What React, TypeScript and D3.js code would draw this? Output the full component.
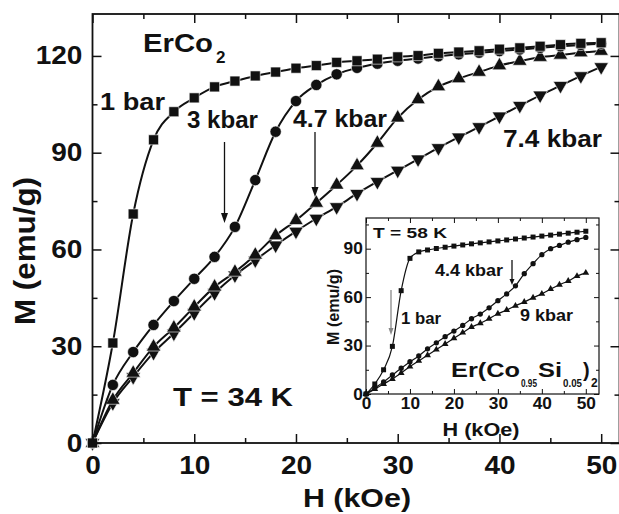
import React, { useEffect, useRef } from 'react';
import * as d3 from 'd3';

// field values (kOe), same grid for main plot and inset
const fieldH = [0, 2, 4, 6, 8, 10, 12, 14, 16, 18, 20, 22, 24, 26, 28, 30, 32, 34, 36, 38, 40, 42, 44, 46, 48, 50];

// ErCo2, T = 34 K
const erCo2_1bar = [0, 31, 71, 94, 102.7, 107, 110.4, 112.2, 113.8, 115, 116.2, 117, 118, 118.5, 119, 119.7, 120.1, 120.8, 121.2, 121.6, 122.1, 122.5, 123, 123.5, 123.9, 124.1];
const erCo2_3kbar = [0, 18, 28.2, 36.6, 44, 50.9, 57.7, 67, 81.5, 96.5, 106, 111, 114.3, 116.3, 117.6, 118.5, 119.2, 119.9, 120.5, 121, 121.5, 122, 122.5, 123, 123.4, 123.8];
const erCo2_47kbar = [0, 13.3, 21.7, 29.8, 35.7, 42.2, 48.4, 53, 58.3, 64.3, 69, 74.4, 80, 86, 93, 100.8, 106.5, 110.5, 113, 115, 117, 118.4, 119.6, 120.3, 121, 121.5];
const erCo2_74kbar = [0, 12.4, 20.5, 28, 34, 40.3, 46.5, 52, 56.7, 61.3, 65.6, 69.6, 73.2, 77.3, 81, 84.5, 88, 91.5, 94.8, 98, 101.3, 104.6, 107.8, 110.8, 113.8, 116.6];

// Er(Co0.95Si0.05)2, T = 58 K (inset)
const si_1bar = [0, 6.2, 15, 29.5, 64, 84, 88, 89.2, 90.1, 90.9, 91.6, 92.3, 93, 93.6, 94.2, 94.8, 95.4, 96, 96.6, 97.2, 97.8, 98.4, 99, 99.6, 100.2, 100.8];
const si_44kbar = [0, 3.7, 7.5, 11.8, 16, 20, 23.6, 28, 31.7, 35.5, 39, 42.5, 46.6, 49.5, 53.4, 57.8, 62, 67, 74.5, 80.7, 86.3, 90, 92, 94, 95.6, 97];
const si_9kbar = [0, 3, 6.2, 9.3, 13, 17, 20.5, 24, 27.5, 31, 34.5, 38, 41.5, 43.8, 46.6, 49.7, 52, 54.6, 57, 59.6, 62, 65, 67.7, 70, 73, 75];

const mainXTicks = [0, 10, 20, 30, 40, 50];
const mainXMinor = [5, 15, 25, 35, 45];
const mainYTicks = [0, 30, 60, 90, 120];
const mainYMinor = [15, 45, 75, 105];
const insetXTicks = [0, 10, 20, 30, 40, 50];
const insetXMinor = [5, 15, 25, 35, 45];
const insetYTicks = [0, 30, 60, 90];
const insetYMinor = [15, 45, 75, 105];

const FONT = '"Liberation Sans", Arial, sans-serif';
const INK = '#111';

const main = { left: 92.5, right: 619.5, top: 14, bottom: 443 };
const ins = { left: 366, right: 599, top: 218, bottom: 394 };

const Txt = ({ x, y, size, w, anchor = 'start', children, transform }: any) => (
  <text x={x} y={y} fontSize={size} fontFamily={FONT} fontWeight="bold" fill={INK}
        textAnchor={anchor} textLength={w} lengthAdjust={w ? 'spacingAndGlyphs' : undefined}
        transform={transform}>
    {children}
  </text>
);

const Arrow = ({ x, y1, y2, head = 10, half = 3.5, color = INK }: any) => (
  <g>
    <line x1={x} x2={x} y1={y1} y2={y2 - head + 1} stroke={color} strokeWidth={1.3} />
    <path d={`M${x - half},${y2 - head} L${x + half},${y2 - head} L${x},${y2} Z`} fill={color} />
  </g>
);

function drawFrame(g: any, xs: any, ys: any, o: any) {
  const [x0, x1] = xs.range();
  const [y0, y1] = ys.range();
  const styleAxis = (sel: any) => {
    sel.select('.domain').remove();
    sel.selectAll('line').attr('stroke', INK).attr('stroke-width', o.tickWidth);
    sel.attr('font-family', FONT).attr('font-weight', 'bold').attr('font-size', o.fontSize);
    sel.selectAll('text').attr('fill', INK);
  };
  const fmt = d3.format('d');
  const none = () => '';

  g.append('g').attr('transform', `translate(0,${y0})`)
    .call(d3.axisBottom(xs).tickValues(o.xMajor).tickSize(-o.major).tickPadding(o.xPad).tickFormat(fmt))
    .call(styleAxis)
    .selectAll('text').attr('transform', `scale(${o.stretch},1)`);
  g.append('g').attr('transform', `translate(0,${y0})`)
    .call(d3.axisBottom(xs).tickValues(o.xMinor).tickSize(-o.minor).tickFormat(none)).call(styleAxis);
  g.append('g').attr('transform', `translate(0,${y1})`)
    .call(d3.axisTop(xs).tickValues(o.xMajor).tickSize(-o.major).tickFormat(none)).call(styleAxis);
  g.append('g').attr('transform', `translate(0,${y1})`)
    .call(d3.axisTop(xs).tickValues(o.xMinor).tickSize(-o.minor).tickFormat(none)).call(styleAxis);

  g.append('g').attr('transform', `translate(${x0},0)`)
    .call(d3.axisLeft(ys).tickValues(o.yMajor).tickSize(-o.major).tickPadding(o.yPad).tickFormat(fmt))
    .call(styleAxis)
    .selectAll('text').attr('transform', `scale(${o.stretch},1)`);
  g.append('g').attr('transform', `translate(${x0},0)`)
    .call(d3.axisLeft(ys).tickValues(o.yMinor).tickSize(-o.minor).tickFormat(none)).call(styleAxis);
  g.append('g').attr('transform', `translate(${x1},0)`)
    .call(d3.axisRight(ys).tickValues(o.yMajor).tickSize(-o.major).tickFormat(none)).call(styleAxis);
  g.append('g').attr('transform', `translate(${x1},0)`)
    .call(d3.axisRight(ys).tickValues(o.yMinor).tickSize(-o.minor).tickFormat(none)).call(styleAxis);

  g.append('rect')
    .attr('x', x0).attr('y', y1).attr('width', x1 - x0).attr('height', y0 - y1)
    .attr('fill', 'none').attr('stroke', INK).attr('stroke-width', o.frameWidth);
}

export default function App() {
  const axesRef = useRef<SVGGElement>(null);

  const x = d3.scaleLinear().domain([0, 51.8]).range([main.left, main.right]);
  const y = d3.scaleLinear().domain([0, 133]).range([main.bottom, main.top]);
  const xi = d3.scaleLinear().domain([0, 53]).range([ins.left, ins.right]);
  const yi = d3.scaleLinear().domain([0, 109]).range([ins.bottom, ins.top]);

  useEffect(() => {
    const g = d3.select(axesRef.current);
    g.selectAll('*').remove();
    drawFrame(g.append('g'), x, y, {
      xMajor: mainXTicks, xMinor: mainXMinor, yMajor: mainYTicks, yMinor: mainYMinor,
      major: 9, minor: 5, tickWidth: 1.5, frameWidth: 1.8, fontSize: 25,
      xPad: 13, yPad: 9, stretch: 1.12,
    });
  }, []);

  const insetAxesRef = useRef<SVGGElement>(null);
  useEffect(() => {
    const g = d3.select(insetAxesRef.current);
    g.selectAll('*').remove();
    drawFrame(g.append('g'), xi, yi, {
      xMajor: insetXTicks, xMinor: insetXMinor, yMajor: insetYTicks, yMinor: insetYMinor,
      major: 5, minor: 3, tickWidth: 1, frameWidth: 1.2, fontSize: 16,
      xPad: 4, yPad: 3, stretch: 1.08,
    });
  }, []);

  const mainLine = (vals: number[]) =>
    d3.line<number>().x((_, i) => x(fieldH[i])).y(v => y(v)).curve(d3.curveMonotoneX)(vals) || '';
  const insetLine = (vals: number[]) =>
    d3.line<number>().x((_, i) => xi(fieldH[i])).y(v => yi(v)).curve(d3.curveMonotoneX)(vals) || '';

  const sym = (type: any, size: number) => d3.symbol().type(type).size(size)() || '';

  const mainSeries = [
    { vals: erCo2_74kbar, shape: sym(d3.symbolTriangle, 90), rot: 180 },
    { vals: erCo2_47kbar, shape: sym(d3.symbolTriangle, 90), rot: 0 },
    { vals: erCo2_3kbar, shape: sym(d3.symbolCircle, 100), rot: 0 },
    { vals: erCo2_1bar, shape: sym(d3.symbolSquare, 100), rot: 0 },
  ];
  const insetSeries = [
    { vals: si_9kbar, shape: sym(d3.symbolTriangle, 20), rot: 0 },
    { vals: si_44kbar, shape: sym(d3.symbolCircle, 22), rot: 0 },
    { vals: si_1bar, shape: sym(d3.symbolSquare, 25), rot: 0 },
  ];

  return (
    <svg width={619} height={514} style={{ position: 'absolute', left: 0, top: 0, background: '#fff' }}>
      <rect width={619} height={514} fill="#fff" />

      {mainSeries.map((s, k) => (
        <g key={k}>
          <path d={mainLine(s.vals)} fill="none" stroke={INK} strokeWidth={2} />
          {s.vals.map((v, i) => (
            <path key={i} d={s.shape} fill={INK} stroke="#fff" strokeWidth={0.6}
                  transform={`translate(${x(fieldH[i])},${y(v)}) rotate(${s.rot})`} />
          ))}
        </g>
      ))}
      <g ref={axesRef} />

      <Txt x={143} y={52} size={25} w={70}>ErCo</Txt>
      <Txt x={216} y={63} size={17}>2</Txt>
      <Txt x={100} y={110} size={24} w={65}>1 bar</Txt>
      <Txt x={187} y={128} size={24} w={71}>3 kbar</Txt>
      <Txt x={293} y={127} size={24} w={94}>4.7 kbar</Txt>
      <Txt x={503} y={147} size={24} w={99}>7.4 kbar</Txt>
      <Txt x={173} y={406} size={26} w={120}>T = 34 K</Txt>
      <Arrow x={224.5} y1={142} y2={223} />
      <Arrow x={315} y1={132} y2={197} />

      <Txt x={0} y={0} size={29} w={148} anchor="middle" transform="translate(35,251) rotate(-90)">M (emu/g)</Txt>
      <Txt x={357} y={507} size={26} w={108} anchor="middle">H (kOe)</Txt>

      {/* inset */}
      <rect x={ins.left} y={ins.top} width={ins.right - ins.left} height={ins.bottom - ins.top} fill="#fff" />
      {insetSeries.map((s, k) => (
        <g key={k}>
          <path d={insetLine(s.vals)} fill="none" stroke={INK} strokeWidth={1.2} />
          {s.vals.map((v, i) => (
            <path key={i} d={s.shape} fill={INK}
                  transform={`translate(${xi(fieldH[i])},${yi(v)}) rotate(${s.rot})`} />
          ))}
        </g>
      ))}
      <g ref={insetAxesRef} />
      <Txt x={373} y={238} size={15} w={74}>T = 58 K</Txt>
      <Txt x={435} y={276} size={16} w={68}>4.4 kbar</Txt>
      <Txt x={401} y={324} size={16} w={40}>1 bar</Txt>
      <Txt x={520} y={321} size={16} w={53}>9 kbar</Txt>
      <Txt x={451} y={377} size={20} w={69}>Er(Co</Txt>
      <Txt x={521} y={387} size={11} w={16}>0.95</Txt>
      <Txt x={538} y={377} size={20} w={24}>Si</Txt>
      <Txt x={563} y={387} size={11} w={19}>0.05</Txt>
      <Txt x={583} y={377} size={20}>)</Txt>
      <Txt x={591} y={387} size={12}>2</Txt>
      <Arrow x={512} y1={260} y2={285} head={6} half={2.5} />
      <Arrow x={391} y1={290} y2={335} head={7} half={2.5} color="#888" />
      <Txt x={0} y={0} size={16} w={76} anchor="middle" transform="translate(339,307) rotate(-90)">M (emu/g)</Txt>
      <Txt x={481} y={436} size={19} w={77} anchor="middle">H (kOe)</Txt>
    </svg>
  );
}
